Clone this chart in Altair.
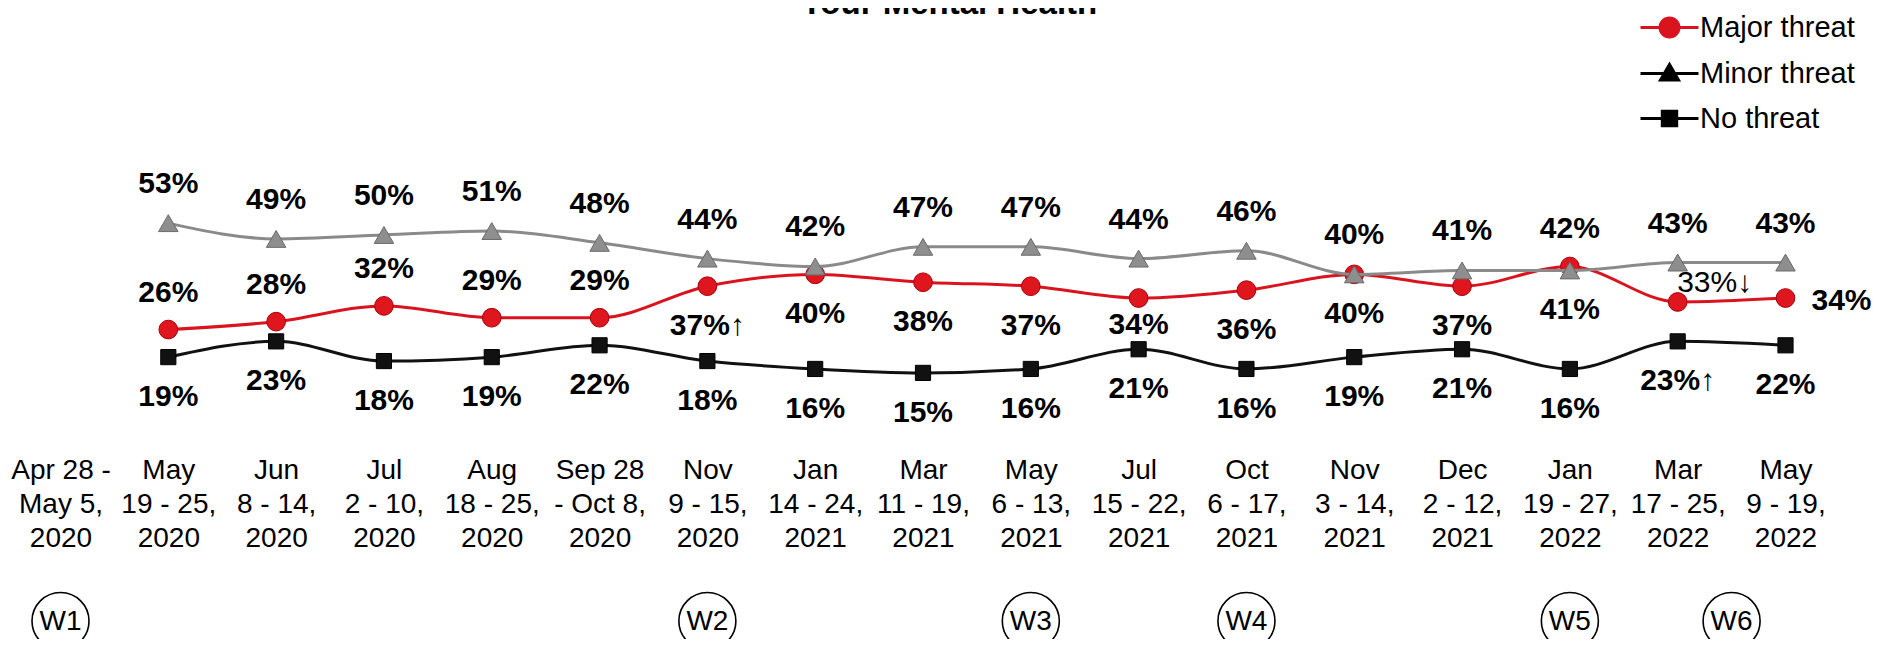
import altair as alt
import pandas as pd

# ---------------- data ----------------
title_text = "Your Mental Health"
categories = [
    "Apr 28 -|May 5,|2020", "May|19 - 25,|2020", "Jun|8 - 14,|2020", "Jul|2 - 10,|2020",
    "Aug|18 - 25,|2020", "Sep 28|- Oct 8,|2020", "Nov|9 - 15,|2020", "Jan|14 - 24,|2021",
    "Mar|11 - 19,|2021", "May|6 - 13,|2021", "Jul|15 - 22,|2021", "Oct|6 - 17,|2021",
    "Nov|3 - 14,|2021", "Dec|2 - 12,|2021", "Jan|19 - 27,|2022", "Mar|17 - 25,|2022",
    "May|9 - 19,|2022",
]
# first survey period has no values on this chart
major_threat = [None, 26, 28, 32, 29, 29, 37, 40, 38, 37, 34, 36, 40, 37, 42, 33, 34]
minor_threat = [None, 53, 49, 50, 51, 48, 44, 42, 47, 47, 44, 46, 40, 41, 41, 43, 43]
no_threat = [None, 19, 23, 18, 19, 22, 18, 16, 15, 16, 21, 16, 19, 21, 16, 23, 22]
major_sig = {6: "↑", 15: "↓"}
no_sig = {15: "↑"}
series_names = ["Major threat", "Minor threat", "No threat"]
waves = ["W1", "W2", "W3", "W4", "W5", "W6"]
wave_pos = [0, 6, 9, 11, 14, 15.5]

rows = []
for sname, vals, sig in [("Major threat", major_threat, major_sig),
                         ("Minor threat", minor_threat, {}),
                         ("No threat", no_threat, no_sig)]:
    for i, v in enumerate(vals):
        if v is None:
            continue
        rows.append(dict(cat=categories[i], idx=i, series=sname, value=v,
                         label=f"{v}%{sig.get(i, '')}"))
df = pd.DataFrame(rows)
wdf = pd.DataFrame({"wave": waves, "pos": wave_pos})
tdf = pd.DataFrame({"t": [title_text]})

# ---------------- styling ----------------
FONT = "Liberation Sans, Arial, Helvetica, sans-serif"
W, H, PAD = 1830, 424, 0.487
line_col = {"Major threat": "#D9141E", "Minor threat": "#8A8A8A", "No threat": "#111111"}
pt_style = {
    "Major threat": dict(shape="circle", size=350, fill="#E0161F", stroke="#A8000C"),
    "Minor threat": dict(shape="triangle-up", size=380, fill="#8E8E8E", stroke="#6A6A6A"),
    "No threat": dict(shape="square", size=230, fill="#111111", stroke="#000000"),
}
legend_colors = ["#D9141E", "#000000", "#000000"]
legend_paths = [
    "M-2.9,0H2.9M0.95,0A0.95,0.95,0,1,1,-0.95,0A0.95,0.95,0,1,1,0.95,0Z",
    "M-2.9,0H2.9M0,-0.9L0.9,0.65L-0.9,0.65Z",
    "M-2.9,0H2.9M-0.72,-0.72H0.72V0.72H-0.72Z",
]

x_axis = alt.Axis(title=None, domain=False, ticks=False, grid=False, labelAngle=0,
                  labelExpr="split(datum.label, '|')", labelFont=FONT, labelFontSize=28,
                  labelColor="black", labelLineHeight=34, labelPadding=24,
                  labelBaseline="top", labelOverlap=False, labelBound=False,
                  labelLimit=0, labelAlign="center")
x_scale = alt.Scale(type="point", domain=categories, padding=PAD)
x_main = alt.X("cat:N", scale=x_scale, axis=x_axis)
x_plain = alt.X("cat:N", scale=x_scale, axis=None)
y_enc = alt.Y("value:Q", scale=alt.Scale(domain=[0, 107.6], nice=False, zero=False), axis=None)

base = alt.Chart(df)
layers = []
first = True
for s in ["Major threat", "Minor threat", "No threat"]:
    sel = base.transform_filter(alt.datum.series == s)
    layers.append(sel.mark_line(interpolate="monotone", color=line_col[s], strokeWidth=3)
                  .encode(x=x_main if first else x_plain, y=y_enc))
    first = False
    st = pt_style[s]
    layers.append(sel.mark_point(shape=st["shape"], size=st["size"], filled=True,
                                 fill=st["fill"], stroke=st["stroke"], strokeWidth=1,
                                 opacity=1)
                  .encode(x=x_plain, y=y_enc))

lab = dict(font=FONT, fontSize=30, fontWeight="bold", color="black",
           baseline="middle", align="center")


def text_layer(expr, **kw):
    style = dict(lab)
    style.update(kw)
    return base.transform_filter(expr).mark_text(**style).encode(
        x=x_plain, y=y_enc, text="label:N")


layers += [
    text_layer("datum.series == 'Minor threat' && datum.idx != 14", dy=-39),
    text_layer("datum.series == 'Minor threat' && datum.idx == 14", dy=40),
    text_layer("datum.series == 'Major threat' && (datum.idx <= 5 || datum.idx == 14)", dy=-37),
    text_layer("datum.series == 'Major threat' && datum.idx >= 6 && datum.idx <= 13 && datum.idx != 10", dy=40),
    text_layer("datum.series == 'Major threat' && datum.idx == 10", dy=27),
    text_layer("datum.series == 'Major threat' && datum.idx == 15", dx=37, dy=-19,
               fontWeight="normal"),
    text_layer("datum.series == 'Major threat' && datum.idx == 16", dx=56, dy=3),
    text_layer("datum.series == 'No threat'", dy=40),
]

# wave markers
wx = alt.X("pos:Q", scale=alt.Scale(domain=[-PAD, 16 + PAD], nice=False, zero=False), axis=None)
layers.append(alt.Chart(wdf).mark_point(shape="circle", size=3250, filled=False,
                                        stroke="black", strokeWidth=1.6, opacity=1)
              .encode(x=wx, y=alt.value(613)))
layers.append(alt.Chart(wdf).mark_text(font=FONT, fontSize=28, color="black")
              .encode(x=wx, y=alt.value(614), text="wave:N"))

# title, only the lower part of it shows at the top edge
layers.append(alt.Chart(tdf).mark_text(font=FONT, fontSize=33, fontWeight="bold",
                                       color="black", baseline="alphabetic", align="center")
              .encode(x=alt.value(941), y=alt.value(6), text="t:N"))

# legend (empty layer that only feeds the legend)
leg = alt.Legend(title=None, orient="none", legendX=1647, legendY=5, direction="vertical",
                 labelFont=FONT, labelFontSize=29, labelColor="black", labelOffset=16,
                 rowPadding=15, symbolSize=400, symbolStrokeWidth=3, symbolOffset=0)
layers.append(base.transform_filter("false").mark_point(filled=True, opacity=1).encode(
    x=x_plain, y=y_enc,
    fill=alt.Fill("series:N", scale=alt.Scale(domain=series_names, range=legend_colors), legend=leg),
    stroke=alt.Stroke("series:N", scale=alt.Scale(domain=series_names, range=legend_colors), legend=leg),
    shape=alt.Shape("series:N", scale=alt.Scale(domain=series_names, range=legend_paths), legend=leg),
))

chart = alt.layer(*layers).resolve_scale(x="independent").properties(
    width=W, height=H,
    autosize=alt.AutoSizeParams(type="none"),
    padding={"left": 0, "top": 0, "right": 39, "bottom": 207},
).configure_view(stroke=None)

chart.save("out.html", embed_options={"renderer": "svg", "actions": False})
